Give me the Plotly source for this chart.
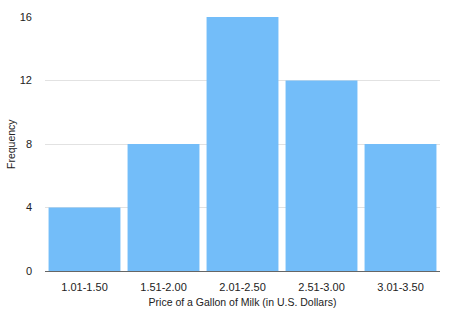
import plotly.graph_objects as go

categories = ["1.01-1.50", "1.51-2.00", "2.01-2.50", "2.51-3.00", "3.01-3.50"]
frequency = [4, 8, 16, 12, 8]
y_ticks = [0, 4, 8, 12, 16]

fig = go.Figure(go.Bar(x=categories, y=frequency, marker_color="#73BDF9",
                       marker_line_width=0))
fig.update_layout(
    width=450, height=315,
    margin=dict(l=45, r=10, t=17, b=44),
    paper_bgcolor="white", plot_bgcolor="white",
    bargap=0.09,
    font=dict(family="Liberation Sans, Arial, sans-serif", size=11, color="#222"),
    showlegend=False,
    annotations=[dict(text="Frequency", textangle=-90, xref="paper", yref="paper",
                      x=-(45 - 11) / 395, y=0.5, xanchor="center", yanchor="middle",
                      showarrow=False, font=dict(size=10.5))],
)
fig.update_xaxes(
    title=dict(text="Price of a Gallon of Milk (in U.S. Dollars)", font=dict(size=10.5), standoff=6),
    showline=True, linecolor="#666", linewidth=1, ticks="", showgrid=False,
    automargin=False, ticklabelstandoff=6,
)
fig.update_yaxes(
    range=[0, 16], tickvals=y_ticks, showgrid=True, gridcolor="#e2e2e2",
    zeroline=False, ticks="", showline=False, ticklabelstandoff=12,
    automargin=False,
)
fig.write_html("out.html")
